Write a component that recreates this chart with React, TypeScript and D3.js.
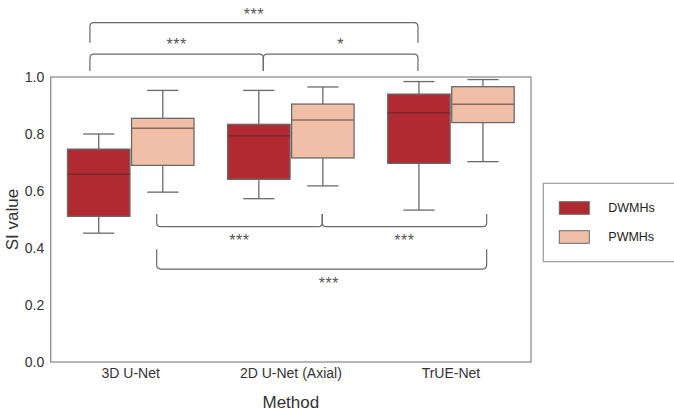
import React from "react";
import * as d3 from "d3";

const methods = ["3D U-Net", "2D U-Net (Axial)", "TrUE-Net"];
const groups = ["DWMHs", "PWMHs"];
const groupColors = ["#b22a31", "#f1bfa8"];

const dwmhLow = [0.452, 0.573, 0.533];
const dwmhQ1 = [0.511, 0.641, 0.697];
const dwmhMedian = [0.659, 0.794, 0.875];
const dwmhQ3 = [0.747, 0.834, 0.94];
const dwmhHigh = [0.8, 0.953, 0.984];

const pwmhLow = [0.596, 0.618, 0.703];
const pwmhQ1 = [0.69, 0.716, 0.84];
const pwmhMedian = [0.82, 0.849, 0.904];
const pwmhQ3 = [0.855, 0.905, 0.966];
const pwmhHigh = [0.953, 0.965, 0.991];

const yTicks = [0, 0.2, 0.4, 0.6, 0.8, 1.0];

// significance brackets: positions in category units (0 = left edge of first band) and value units
const bracketFrom = [0.245, 0.245, 1.328, 0.662, 1.696, 0.662];
const bracketTo = [2.294, 1.328, 2.294, 1.696, 2.723, 2.723];
const bracketBar = [1.1905, 1.08, 1.08, 0.475, 0.475, 0.326];
const bracketEnd = [1.12, 1.021, 1.021, 0.519, 0.519, 0.396];
const bracketLabel = ["***", "***", "*", "***", "***", "***"];
const bracketLabelY = [1.229, 1.124, 1.124, 0.434, 0.434, 0.284];
const bracketLabelX = [null, null, null, null, null, 1.738];

const W = 674;
const H = 410;
const M = { left: 50.7, right: 531, top: 77, bottom: 362 };

export default function App() {
  const x = d3.scaleBand<string>().domain(methods).range([M.left, M.right]).padding(0);
  const xc = d3.scaleLinear().domain([0, methods.length]).range([M.left, M.right]);
  const y = d3.scaleLinear().domain([0, 1]).range([M.bottom, M.top]);
  const hue = d3
    .scaleBand<string>()
    .domain(groups)
    .range([0, x.bandwidth() * 0.8])
    .padding(0);

  const stats = [
    { low: dwmhLow, q1: dwmhQ1, med: dwmhMedian, q3: dwmhQ3, high: dwmhHigh },
    { low: pwmhLow, q1: pwmhQ1, med: pwmhMedian, q3: pwmhQ3, high: pwmhHigh },
  ];

  const lineColor = "#6a6a6a";
  const gap = 0.8;

  const boxes: React.ReactNode[] = [];
  methods.forEach((m, i) => {
    const start = (x(m) as number) + x.bandwidth() * 0.1;
    groups.forEach((g, j) => {
      const s = stats[j];
      const x0 = start + (hue(g) as number) + gap;
      const bw = hue.bandwidth() - gap * 2;
      const cx = x0 + bw / 2;
      const capW = bw / 2;
      boxes.push(
        <g key={m + g}>
          <line x1={cx} x2={cx} y1={y(s.high[i])} y2={y(s.q3[i])} stroke={lineColor} strokeWidth={1.3} />
          <line x1={cx} x2={cx} y1={y(s.q1[i])} y2={y(s.low[i])} stroke={lineColor} strokeWidth={1.3} />
          <line x1={cx - capW / 2} x2={cx + capW / 2} y1={y(s.high[i])} y2={y(s.high[i])} stroke={lineColor} strokeWidth={1.3} />
          <line x1={cx - capW / 2} x2={cx + capW / 2} y1={y(s.low[i])} y2={y(s.low[i])} stroke={lineColor} strokeWidth={1.3} />
          <rect
            x={x0}
            y={y(s.q3[i])}
            width={bw}
            height={y(s.q1[i]) - y(s.q3[i])}
            fill={groupColors[j]}
            stroke={lineColor}
            strokeWidth={1.3}
          />
          <line
            x1={x0}
            x2={x0 + bw}
            y1={y(s.med[i])}
            y2={y(s.med[i])}
            stroke={j === 0 ? "#7a2a2c" : "#8a6a60"}
            strokeWidth={1.5}
          />
        </g>
      );
    });
  });

  const r = 4;
  const brackets = bracketFrom.map((f, k) => {
    const x1 = xc(f);
    const x2 = xc(bracketTo[k]);
    const yb = y(bracketBar[k]);
    const ye = y(bracketEnd[k]);
    const dir = ye > yb ? 1 : -1;
    const p = d3.path();
    p.moveTo(x1, ye);
    p.lineTo(x1, yb + dir * r);
    p.quadraticCurveTo(x1, yb, x1 + r, yb);
    p.lineTo(x2 - r, yb);
    p.quadraticCurveTo(x2, yb, x2, yb + dir * r);
    p.lineTo(x2, ye);
    const lx = bracketLabelX[k] != null ? xc(bracketLabelX[k] as number) : (x1 + x2) / 2;
    return (
      <g key={"b" + k}>
        <path d={p.toString()} fill="none" stroke="#6a6a6a" strokeWidth={1.2} />
        <text
          x={lx}
          y={y(bracketLabelY[k])}
          dy="0.5em"
          textAnchor="middle"
          fontSize={16}
          fill="#555"
          letterSpacing={0.5}
        >
          {bracketLabel[k]}
        </text>
      </g>
    );
  });

  const font = "'Liberation Sans', Arial, Helvetica, sans-serif";

  return (
    <svg
      width={W}
      height={H}
      style={{ position: "absolute", left: 0, top: 0, background: "#fff" }}
      fontFamily={font}
    >
      {boxes}
      <rect
        x={M.left}
        y={M.top}
        width={M.right - M.left}
        height={M.bottom - M.top}
        fill="none"
        stroke="#8e8e8e"
        strokeWidth={1.3}
      />
      {yTicks.map((t) => (
        <text key={t} x={M.left - 6.5} y={y(t)} dy="0.35em" textAnchor="end" fontSize={14} fill="#333">
          {t.toFixed(1)}
        </text>
      ))}
      {methods.map((m) => (
        <text
          key={m}
          x={(x(m) as number) + x.bandwidth() / 2}
          y={378}
          textAnchor="middle"
          fontSize={14}
          fill="#333"
        >
          {m}
        </text>
      ))}
      <text x={(M.left + M.right) / 2} y={407.5} textAnchor="middle" fontSize={17} fill="#333">
        Method
      </text>
      <text
        transform={`translate(17.5, ${(M.top + M.bottom) / 2}) rotate(-90)`}
        textAnchor="middle"
        fontSize={17}
        fill="#333"
      >
        SI value
      </text>
      {brackets}
      <g>
        <rect x={543.3} y={183.3} width={140} height={78.4} fill="#fff" stroke="#9a9a9a" strokeWidth={1.2} />
        {groups.map((g, j) => (
          <g key={g}>
            <rect
              x={559.3}
              y={201.7 + j * 29}
              width={30}
              height={12.6}
              fill={groupColors[j]}
              stroke={lineColor}
              strokeWidth={1}
            />
            <text x={608.3} y={208 + j * 29} dy="0.35em" fontSize={12.5} fill="#222">
              {g}
            </text>
          </g>
        ))}
      </g>
    </svg>
  );
}
